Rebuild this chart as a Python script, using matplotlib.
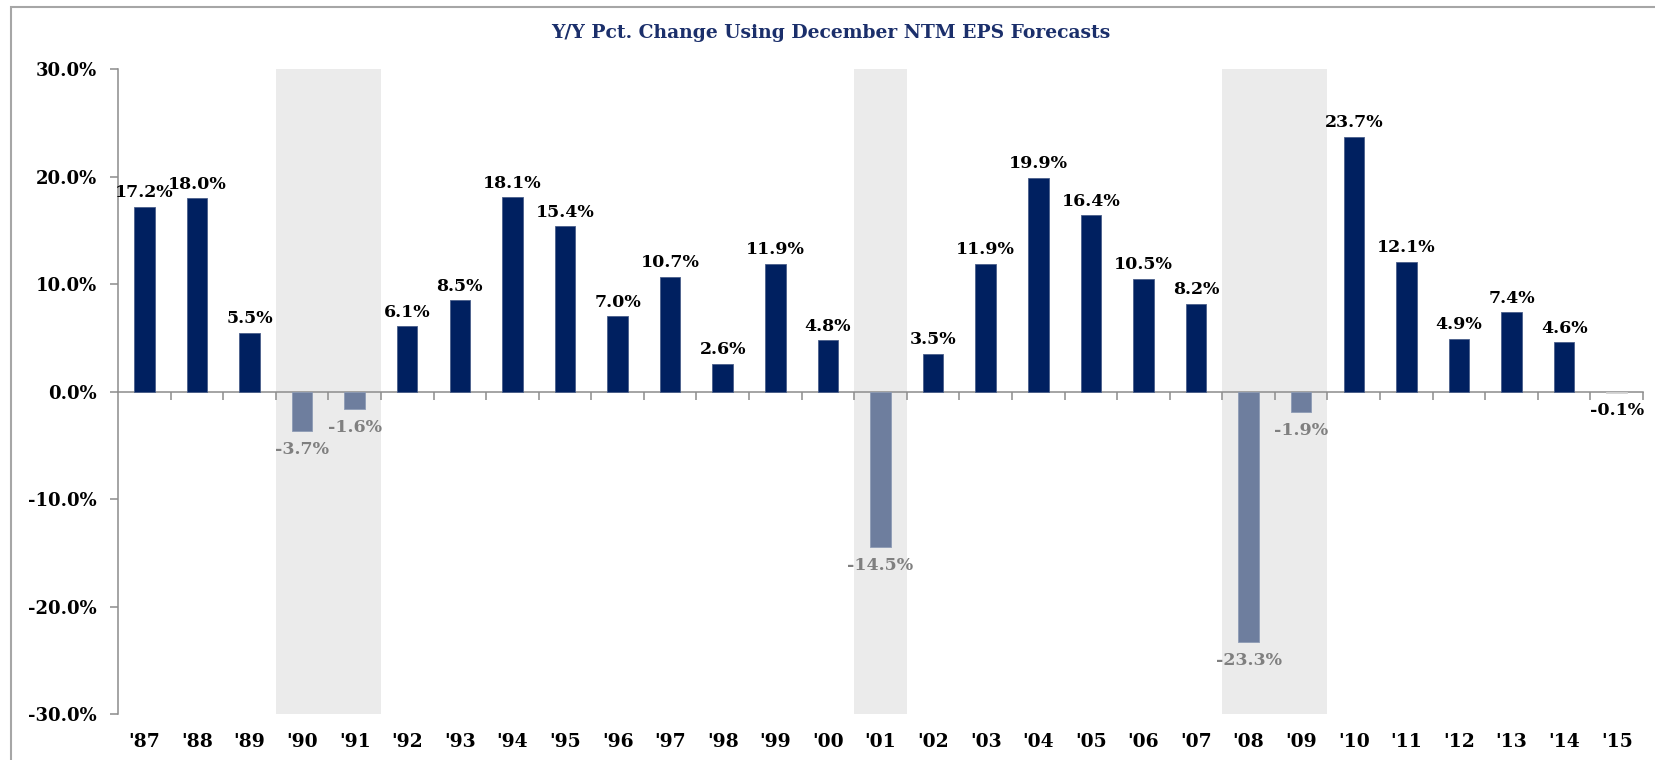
"""
Y/Y Pct. Change Using December NTM EPS Forecasts - bar chart
"""
import numpy as np
import matplotlib.pyplot as plt
from matplotlib.patches import Rectangle
from matplotlib.ticker import FuncFormatter

# 1. data

years = ["'87", "'88", "'89", "'90", "'91", "'92", "'93", "'94", "'95", "'96",
         "'97", "'98", "'99", "'00", "'01", "'02", "'03", "'04", "'05", "'06",
         "'07", "'08", "'09", "'10", "'11", "'12", "'13", "'14", "'15"]
values = [17.2, 18.0, 5.5, -3.7, -1.6, 6.1, 8.5, 18.1, 15.4, 7.0,
          10.7, 2.6, 11.9, 4.8, -14.5, 3.5, 11.9, 19.9, 16.4, 10.5,
          8.2, -23.3, -1.9, 23.7, 12.1, 4.9, 7.4, 4.6, -0.1]
recession_years = ["'90", "'91", "'01", "'08", "'09"]
title = 'Y/Y Pct. Change Using December NTM EPS Forecasts'

# 2. style

NAVY = '#002060'
SLATE = '#6E7E9E'
SHADE = '#EBEBEB'
AXIS_GRAY = '#8C8C8C'

plt.rcParams['font.family'] = ['DejaVu Serif']
plt.rcParams['font.weight'] = 'bold'

fig = plt.figure(figsize=(16.56, 7.6), dpi=100)
ax = fig.add_axes([118 / 1656, 1 - 714 / 760, (1643 - 118) / 1656, (714 - 69.3) / 760])

x = np.arange(len(years))
in_rec = [y in recession_years for y in years]

# 3. recession shading (contiguous groups)
i = 0
while i < len(years):
    if in_rec[i]:
        j = i
        while j + 1 < len(years) and in_rec[j + 1]:
            j += 1
        ax.axvspan(i - 0.5, j + 0.5, color=SHADE, zorder=0.5, lw=0)
        i = j + 1
    else:
        i += 1

# 4. bars
face, edge, lab_col = [], [], []
for v, r in zip(values, in_rec):
    if v >= 0:
        face.append(NAVY); edge.append('#4A5F8A'); lab_col.append('black')
    elif r:
        face.append(SLATE); edge.append('#8D9BB5'); lab_col.append('#7F7F7F')
    else:
        face.append('#F5F5F5'); edge.append('#D0D0D0'); lab_col.append('black')

ax.bar(x, values, width=0.39, color=face, edgecolor=edge, linewidth=0.6, zorder=3)

for xi, v, c in zip(x, values, lab_col):
    if v >= 0:
        ax.annotate(f'{v:.1f}%', (xi, v), xytext=(0, 4), textcoords='offset points',
                    ha='center', va='bottom', fontsize=12.5, fontweight='bold', color=c)
    else:
        ax.annotate(f'{v:.1f}%', (xi, v), xytext=(0, -7), textcoords='offset points',
                    ha='center', va='top', fontsize=12.5, fontweight='bold', color=c)

# 5. axes
ax.set_xlim(-0.5, len(years) - 0.5)
ax.set_ylim(-30, 30)
ax.set_yticks([-30, -20, -10, 0, 10, 20, 30])
ax.yaxis.set_major_formatter(FuncFormatter(lambda v, p: f'{v:.1f}%' if v != 0 else '0.0%'))
ax.tick_params(axis='y', direction='out', length=6, width=1.1, color=AXIS_GRAY,
               labelsize=13, pad=9)

ax.spines['top'].set_visible(False)
ax.spines['right'].set_visible(False)
ax.spines['left'].set_color(AXIS_GRAY)
ax.spines['left'].set_linewidth(1.1)
ax.spines['bottom'].set_position(('data', 0))
ax.spines['bottom'].set_color(AXIS_GRAY)
ax.spines['bottom'].set_linewidth(1.1)

# boundary ticks on the zero line, category labels at the bottom
ax.set_xticks(x + 0.5)
ax.set_xticklabels([])
ax.tick_params(axis='x', direction='out', length=6, width=1.1, color=AXIS_GRAY)
for xi, lab in zip(x, years):
    ax.annotate(lab, (xi, 0), xycoords=('data', 'axes fraction'), xytext=(0, -20),
                textcoords='offset points', ha='center', va='center',
                fontsize=13.5, fontweight='bold', color='black', annotation_clip=False)

# 6. title and outer frame
fig.text(831 / 1656, 1 - 33 / 760, title, ha='center', va='center',
         fontsize=13.5, fontweight='bold', color='#1B2F6B')
fig.patches.append(Rectangle((10.7 / 1656, -0.1), 1.2, 1.1 - 7 / 760,
                             transform=fig.transFigure, fill=False,
                             edgecolor='#A6A6A6', linewidth=1.5))

fig.savefig('out.png', dpi=100)
